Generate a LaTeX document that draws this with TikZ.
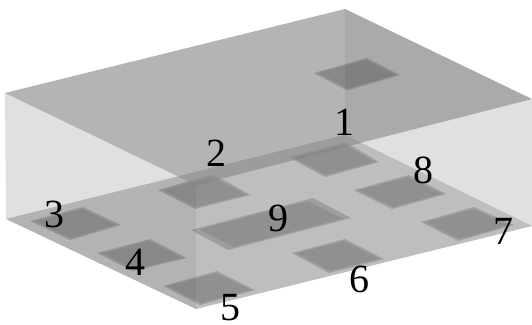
\documentclass[tikz,border=0pt]{standalone}
\usepackage{fontspec}
\setmainfont{Liberation Serif}
\usetikzlibrary{calc}
\newcommand{\padquad}[8]{%
  \fill[padouter] (#1,#2) -- (#3,#4) -- (#5,#6) -- (#7,#8) -- cycle;
  \fill[padinner] ($(#1,#2)!0.05!(#5,#6)$) -- ($(#3,#4)!0.06!(#7,#8)$) -- ($(#5,#6)!0.05!(#1,#2)$) -- ($(#7,#8)!0.06!(#3,#4)$) -- cycle;
}
\tikzset{
  face/.style={fill=black,draw=none,fill opacity=#1},
  padouter/.style={fill=black,fill opacity=0.17},
  padinner/.style={fill=black,fill opacity=0.09},
  num/.style={inner sep=0pt,font=\fontsize{40}{40}\selectfont,text=black}
}
\begin{document}
\begin{tikzpicture}[x=1pt,y=-1pt]
\useasboundingbox (0,0) rectangle (532,324);
\coordinate (A) at (5,93);
\coordinate (B) at (345,9);
\coordinate (C) at (532,99);
\coordinate (D) at (196,185);
\coordinate (E) at (6,219);
\coordinate (H) at (345,135);
\coordinate (G) at (532,226);
\coordinate (F) at (196,309);
\coordinate (P) at (intersection of E--H and A--D);
\coordinate (Q) at (intersection of H--G and D--C);
% back walls
\fill[face=0.066] (A) -- (B) -- (H) -- (E) -- cycle;
\fill[face=0.122] (B) -- (C) -- (G) -- (H) -- cycle;
% floor
\fill[face=0.255] (E) -- (H) -- (G) -- (F) -- cycle;
% floor pads
\padquad{30}{221}{83}{207}{121}{225}{70}{240}
\padquad{97}{253}{150}{239}{187}{258}{133}{271}
\padquad{163}{286}{217}{271}{255}{290}{200}{305}
\padquad{292}{253}{345}{239}{384}{259}{329}{273}
\padquad{421}{222}{474}{207}{514}{225}{458}{241}
\padquad{354}{190}{409}{175}{446}{194}{392}{209}
\padquad{191}{230}{313}{198}{351}{218}{228}{250}
\padquad{158}{190}{213}{174}{250.5}{195}{195}{209}
\padquad{288}{157}{345}{142}{379}{162}{325}{177}
% near-left face
\fill[face=0.06] (A) -- (D) -- (F) -- (E) -- cycle;
% top face and its pad
\fill[face=0.244] (A) -- (B) -- (C) -- (D) -- cycle;
\padquad{313.5}{73}{367}{58}{400}{75}{347}{90.5}
% band where the top face overlaps the floor
\fill[fill={rgb,255:red,156;green,156;blue,156}] (P) -- (H) -- (Q) -- (D) -- cycle;
\begin{scope}[padouter/.style={fill=black,fill opacity=0.04},padinner/.style={fill=black,fill opacity=0.07}]
\clip (P) -- (H) -- (Q) -- (D) -- cycle;
\padquad{158}{190}{213}{174}{250.5}{195}{195}{209}
\padquad{288}{157}{345}{142}{379}{162}{325}{177}
\end{scope}
% labels
\node[num] (n1) at (344,122) {1};
\node[num] (n2) at (216,153) {2};
\node[num] (n3) at (54,214) {3};
\node[num] (n4) at (135,262) {4};
\node[num] (n5) at (230,308) {5};
\node[num] (n6) at (359,279) {6};
\node[num] (n7) at (503,231) {7};
\node[num] (n8) at (423,170) {8};
\node[num] (n9) at (278,218) {9};
\end{tikzpicture}
\end{document}
